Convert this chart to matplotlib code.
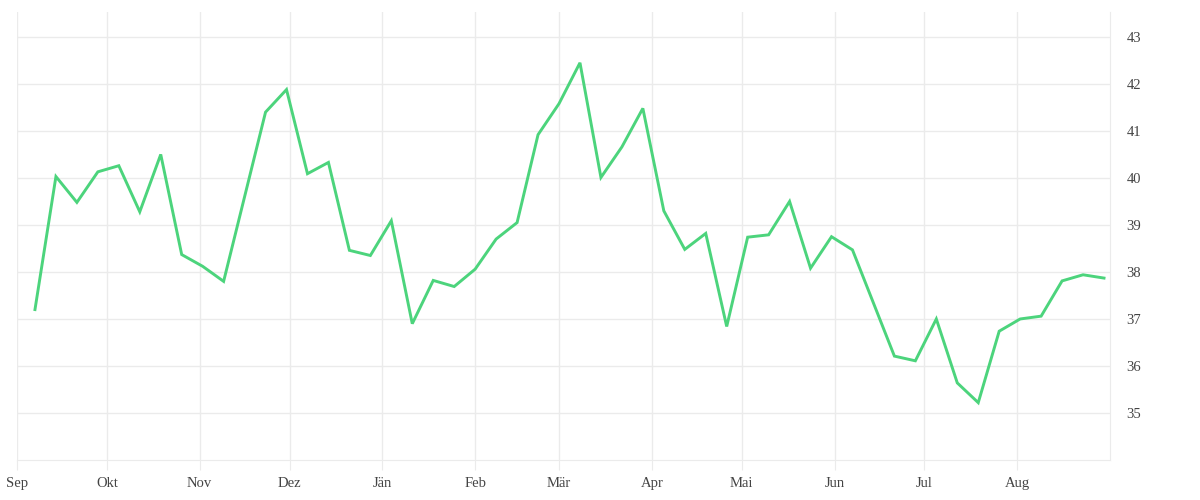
import numpy as np
import pandas as pd
import matplotlib
matplotlib.use("Agg")
from matplotlib import pyplot as plt
import matplotlib.dates as mdates

# weekly values
week_start = "2022-09-07"
values = [37.20, 40.03, 39.48, 40.13, 40.26, 39.28, 40.50, 38.37, 38.12, 37.80,
          39.60, 41.40, 41.88, 40.09, 40.33, 38.46, 38.35, 39.09, 36.90, 37.82,
          37.69, 38.06, 38.70, 39.05, 40.92, 41.58, 42.45, 40.01, 40.66, 41.48,
          39.30, 38.48, 38.82, 36.84, 38.74, 38.79, 39.50, 38.08, 38.75, 38.47,
          37.34, 36.21, 36.11, 37.00, 35.64, 35.22, 36.74, 37.00, 37.06, 37.81,
          37.94, 37.87]
month_labels = ["Sep", "Okt", "Nov", "Dez", "Jän", "Feb", "Mär", "Apr", "Mai", "Jun", "Jul", "Aug"]
y_ticks = [35, 36, 37, 38, 39, 40, 41, 42, 43]

dates = pd.date_range(week_start, periods=len(values), freq="7D")
month_starts = pd.date_range("2022-09-01", periods=12, freq="MS")

plt.rcParams['font.family'] = ['Liberation Serif', 'DejaVu Serif']

fig = plt.figure(figsize=(12, 5), dpi=100)
ax = fig.add_axes([17 / 1200, 1 - 460 / 500, (1110 - 17) / 1200, (460 - 12) / 500])

grid_col = "#ebebeb"
ax.plot(dates, values, color="#4cd47c", linewidth=2.1, solid_joinstyle="miter", zorder=3)

ax.set_xlim(pd.Timestamp("2022-09-01"), pd.Timestamp("2023-09-01"))
ax.set_ylim(34, 43.53)

ax.set_xticks(month_starts)
ax.set_xticklabels(month_labels)
ax.set_yticks(y_ticks)
ax.yaxis.tick_right()

ax.grid(True, color=grid_col, linewidth=1)
for s in ["top", "left"]:
    ax.spines[s].set_visible(False)
ax.spines["bottom"].set_color(grid_col)
ax.spines["right"].set_color(grid_col)

ax.tick_params(axis="x", length=7, color=grid_col, pad=5, labelsize=10.5, labelcolor="#444444")
ax.tick_params(axis="y", length=0, pad=12, labelsize=10.5, labelcolor="#444444")
for lbl in ax.get_yticklabels():
    lbl.set_horizontalalignment("left")

fig.savefig("out.png", dpi=100, facecolor="white")
